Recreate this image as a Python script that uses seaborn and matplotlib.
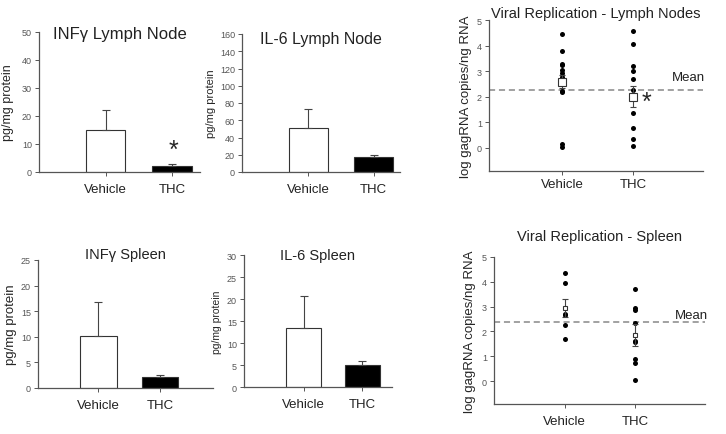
import numpy as np
import pandas as pd
import seaborn as sns
from matplotlib import pyplot as plt

# cytokine bars (mean, top of error bar)
groups = ["Vehicle", "THC"]
inf_ln_mean = [15.0, 2.2]
inf_ln_top = [22.2, 2.8]
il6_ln_mean = [51.0, 17.5]
il6_ln_top = [73.0, 20.0]
inf_sp_mean = [10.1, 2.1]
inf_sp_top = [16.8, 2.6]
il6_sp_mean = [13.4, 5.0]
il6_sp_top = [20.7, 5.9]

# viral replication points
vr_ln_vehicle = [4.45, 3.8, 3.27, 3.22, 3.05, 2.92, 2.78, 2.62, 2.2, 2.16, 0.15, 0.02]
vr_ln_thc = [4.55, 4.05, 3.2, 3.02, 2.7, 2.25, 1.35, 0.75, 0.35, 0.05]
vr_ln_mean = [2.58, 2.0]
vr_ln_err = [0.25, 0.4]
vr_ln_overall = 2.27
vr_sp_vehicle = [4.35, 3.95, 2.72, 2.65, 2.27, 1.71]
vr_sp_thc = [3.7, 2.94, 2.87, 2.33, 1.6, 1.56, 0.88, 0.72, 0.04]
vr_sp_mean = [2.94, 1.85]
vr_sp_err = [0.35, 0.44]
vr_sp_overall = 2.37

sns.set_style("ticks")
plt.rcParams["font.family"] = ["Liberation Sans", "DejaVu Sans"]

W, H = 726, 435
fig = plt.figure(figsize=(W / 100, H / 100), dpi=100)


def make_ax(l, r, t, b):
    return fig.add_axes([l / W, 1 - b / H, (r - l) / W, (b - t) / H])


GRAY = "#555555"


def style(ax, xpad=5):
    sns.despine(ax=ax)
    for s in ["left", "bottom"]:
        ax.spines[s].set_color(GRAY)
        ax.spines[s].set_linewidth(0.9)
    ax.tick_params(axis="y", labelsize=6.5, colors=GRAY, length=3, width=0.7, pad=2)
    ax.tick_params(axis="x", labelsize=9.5, length=3, width=0.7, color=GRAY,
                   labelcolor="#222222", pad=xpad)
    ax.set_xlabel("")


def bar_panel(ax, means, tops, ymax, step, xlim, title, tsize, title_y, ylab_size, ylab_pad):
    df = pd.DataFrame({"group": groups, "value": means})
    sns.barplot(data=df, x="group", y="value", order=groups, hue="group",
                palette=["white", "black"], width=0.6, edgecolor="#333333",
                linewidth=0.8, legend=False, ax=ax)
    err = [t - m for t, m in zip(tops, means)]
    ax.errorbar([0, 1], means, yerr=[[0, 0], err], fmt="none", ecolor="#444444",
                elinewidth=0.8, capsize=3, capthick=0.8)
    ax.set_ylim(0, ymax)
    ax.set_yticks(np.arange(0, ymax + 0.1, step))
    ax.set_xlim(*xlim)
    ax.set_ylabel("pg/mg protein", fontsize=ylab_size, labelpad=ylab_pad)
    style(ax)
    ax.text(0.5, title_y, title, transform=ax.transAxes, ha="center", va="center",
            fontsize=tsize, color="#222222", clip_on=False)


def scatter_panel(ax, veh, thc, means, errs, overall, xlim, title, msize, mean_y, tpad, xpad):
    df = pd.DataFrame({"group": ["Vehicle"] * len(veh) + ["THC"] * len(thc),
                       "value": veh + thc})
    sns.stripplot(data=df, x="group", y="value", order=groups, jitter=False,
                  color="black", size=3.6, ax=ax)
    ax.errorbar([0, 1], means, yerr=errs, fmt="s", mfc="white", mec="#333333",
                ms=msize, mew=0.8, ecolor="#444444", elinewidth=0.8, capsize=2.5,
                capthick=0.8, zorder=5)
    ax.axhline(overall, color="#888888", lw=1.1, ls=(0, (4, 2.5)), zorder=1)
    ax.text(xlim[1] - 0.2, mean_y, "Mean", ha="center", va="center", fontsize=9.5,
            color="#222222")
    ax.set_ylim(-0.92, 5)
    ax.set_yticks([0, 1, 2, 3, 4, 5])
    ax.set_xlim(*xlim)
    ax.set_ylabel("log gagRNA copies/ng RNA", fontsize=9.5, labelpad=4)
    style(ax, xpad)
    ax.set_title(title, fontsize=10.5, color="#222222", pad=tpad)


ax1 = make_ax(39, 200, 33, 173)
bar_panel(ax1, inf_ln_mean, inf_ln_top, 50, 10, (-1.0, 1.42), "INF\u03b3 Lymph Node",
          12, 0.99, 9, 6)
ax1.text(1.02, 8.0, "*", ha="center", va="center", fontsize=18)

ax2 = make_ax(242, 400, 35, 173)
bar_panel(ax2, il6_ln_mean, il6_ln_top, 160, 20, (-1.01, 1.40), "IL-6 Lymph Node",
          11.5, 0.97, 8, 3)

ax3 = make_ax(489, 703, 21, 172)
scatter_panel(ax3, vr_ln_vehicle, vr_ln_thc, vr_ln_mean, vr_ln_err, vr_ln_overall,
              (-1.03, 1.99), "Viral Replication - Lymph Nodes", 5.5, 2.77, 2, 2)
ax3.text(1.19, 1.8, "*", ha="center", va="center", fontsize=18)

ax4 = make_ax(38, 213, 261, 389)
bar_panel(ax4, inf_sp_mean, inf_sp_top, 25, 5, (-0.98, 1.86), "INF\u03b3 Spleen",
          10.5, 1.05, 9.5, 3)

ax5 = make_ax(244, 392, 256, 388)
bar_panel(ax5, il6_sp_mean, il6_sp_top, 30, 5, (-1.02, 1.51), "IL-6 Spleen",
          10.5, 1.0, 7.5, 4)

ax6 = make_ax(494, 705, 258, 405)
scatter_panel(ax6, vr_sp_vehicle, vr_sp_thc, vr_sp_mean, vr_sp_err, vr_sp_overall,
              (-1.01, 2.0), "Viral Replication - Spleen", 3.5, 2.66, 12, 5)

fig.savefig("out.png", dpi=100)
